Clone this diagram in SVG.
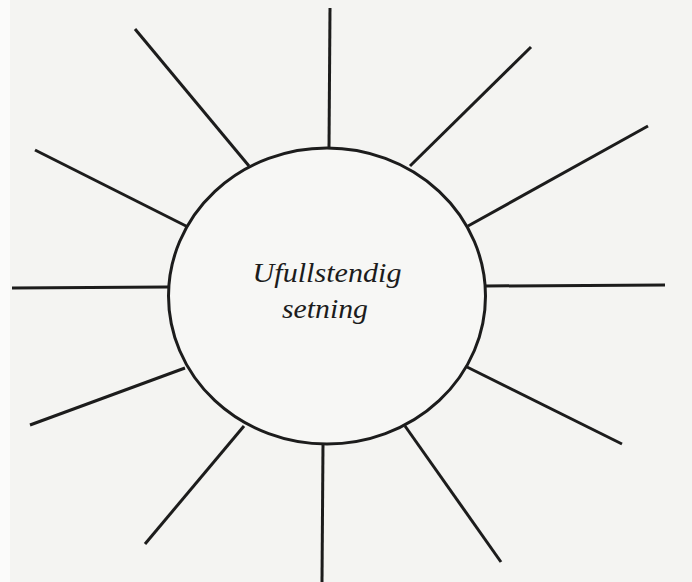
<svg xmlns="http://www.w3.org/2000/svg" width="692" height="582" viewBox="0 0 692 582">
<style>
.ray{stroke:#1c1c1c;stroke-width:3;stroke-linecap:butt;fill:none}
.hub{fill:#f7f7f5;stroke:#1c1c1c;stroke-width:3}
.lbl{font-family:"Liberation Serif","DejaVu Serif",serif;font-style:italic;font-size:27px;fill:#1c1c1c;text-anchor:middle}
</style>
<rect x="0" y="0" width="692" height="582" fill="#f4f4f2"/>
<rect x="0" y="0" width="10" height="582" fill="#fbfbfa"/>
<g id="connectors">
<line class="ray" x1="330" y1="8" x2="329" y2="148"/>
<line class="ray" x1="135" y1="29" x2="249" y2="166"/>
<line class="ray" x1="531" y1="47" x2="410" y2="166"/>
<line class="ray" x1="35" y1="150" x2="188" y2="227"/>
<line class="ray" x1="648" y1="126" x2="468" y2="226"/>
<line class="ray" x1="12" y1="288" x2="168" y2="287"/>
<line class="ray" x1="665" y1="285" x2="486" y2="286"/>
<line class="ray" x1="30" y1="425" x2="185" y2="368"/>
<line class="ray" x1="622" y1="444" x2="467" y2="367"/>
<line class="ray" x1="145" y1="544" x2="244" y2="426"/>
<line class="ray" x1="322" y1="582" x2="323" y2="444"/>
<line class="ray" x1="501" y1="562" x2="405" y2="426"/>
</g>
<g id="center">
<ellipse class="hub" cx="327" cy="296" rx="158.5" ry="148"/>
<text class="lbl" x="327" y="282" textLength="149" lengthAdjust="spacingAndGlyphs">Ufullstendig</text>
<text class="lbl" x="325" y="318" textLength="86" lengthAdjust="spacingAndGlyphs">setning</text>
</g>
</svg>
